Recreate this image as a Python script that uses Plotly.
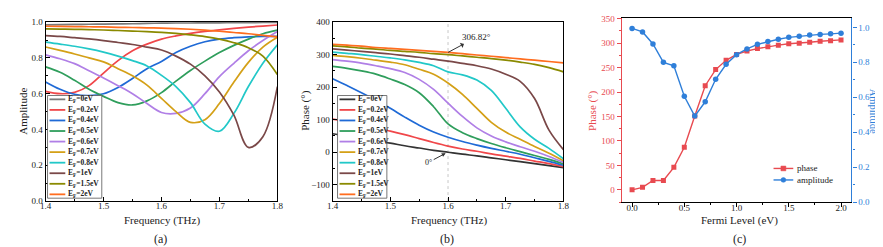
import plotly.graph_objects as go

W, H = 883, 247
FONT = "Liberation Serif, Times New Roman, serif"

# ---------------- data ----------------
freq = [1.4, 1.425, 1.45, 1.475, 1.5, 1.525, 1.55, 1.575, 1.6,
        1.625, 1.65, 1.675, 1.7, 1.725, 1.75, 1.775, 1.8]

labels = ["0eV", "0.2eV", "0.4eV", "0.5eV", "0.6eV", "0.7eV", "0.8eV", "1eV", "1.5eV", "2eV"]
colors = ["#7a7a7a", "#f0474a", "#1f6ad6", "#2f9e5c", "#b07fe6",
          "#d4a017", "#22c8c8", "#7a4848", "#8a8a00", "#ff6d1f"]
colors_b = ["#333333"] + colors[1:]

amp_0eV = [0.985, 0.986, 0.987, 0.988, 0.989, 0.990, 0.991, 0.993, 0.994, 0.995, 0.995, 0.996, 0.996, 0.997, 0.997, 0.998, 0.998]
amp_02eV = [0.613, 0.600, 0.607, 0.645, 0.715, 0.785, 0.840, 0.877, 0.905, 0.923, 0.937, 0.948, 0.957, 0.965, 0.972, 0.978, 0.984]
amp_04eV = [0.666, 0.625, 0.597, 0.590, 0.600, 0.635, 0.685, 0.740, 0.780, 0.830, 0.865, 0.890, 0.905, 0.913, 0.918, 0.920, 0.920]
amp_05eV = [0.750, 0.720, 0.675, 0.625, 0.585, 0.550, 0.537, 0.560, 0.606, 0.670, 0.730, 0.782, 0.830, 0.870, 0.905, 0.935, 0.955]
amp_06eV = [0.817, 0.795, 0.768, 0.728, 0.688, 0.645, 0.600, 0.545, 0.495, 0.490, 0.520, 0.600, 0.695, 0.770, 0.840, 0.897, 0.947]
amp_07eV = [0.861, 0.842, 0.822, 0.800, 0.778, 0.740, 0.700, 0.648, 0.574, 0.500, 0.440, 0.455, 0.545, 0.665, 0.775, 0.860, 0.915]
amp_08eV = [0.888, 0.877, 0.865, 0.850, 0.832, 0.810, 0.785, 0.755, 0.703, 0.640, 0.550, 0.430, 0.390, 0.490, 0.640, 0.770, 0.873]
amp_1eV = [0.925, 0.920, 0.913, 0.906, 0.897, 0.886, 0.875, 0.860, 0.844, 0.810, 0.765, 0.700, 0.610, 0.480, 0.300, 0.360, 0.640]
amp_15eV = [0.962, 0.961, 0.960, 0.958, 0.956, 0.953, 0.950, 0.947, 0.943, 0.937, 0.929, 0.919, 0.905, 0.885, 0.857, 0.810, 0.707]
amp_2eV = [0.977, 0.976, 0.975, 0.974, 0.973, 0.971, 0.970, 0.968, 0.967, 0.964, 0.960, 0.955, 0.949, 0.942, 0.935, 0.926, 0.917]

ph_0eV = [57, 50, 43, 35, 28, 20, 13, 6, 0, -6, -11, -17, -23, -29, -35, -41, -47]
ph_02eV = [102, 94, 85, 75, 65, 54, 42, 30, 19, 10, 3, -5, -12, -19, -27, -35, -44]
ph_04eV = [226, 205, 183, 160, 135, 108, 83, 62, 46, 33, 22, 12, 3, -6, -17, -28, -40]
ph_05eV = [264, 258, 250, 240, 225, 208, 183, 140, 87, 60, 42, 27, 14, 2, -10, -22, -36]
ph_06eV = [285, 280, 274, 266, 257, 245, 224, 193, 151, 110, 75, 50, 32, 17, 3, -13, -31]
ph_07eV = [298, 294, 289, 283, 277, 269, 255, 240, 213, 178, 135, 92, 62, 40, 18, -3, -26]
ph_08eV = [308, 304, 300, 295, 290, 284, 276, 266, 247, 238, 222, 190, 135, 78, 40, 12, -20]
ph_1eV = [318, 314, 310, 306, 302, 297, 292, 286, 280, 273, 266, 256, 240, 218, 165, 68, 8]
ph_15eV = [327, 324, 320, 317, 313, 310, 307, 303, 300, 296, 292, 288, 283, 277, 270, 260, 247]
ph_2eV = [332, 329, 326, 322, 319, 316, 313, 310, 306.82, 303, 299, 295, 291, 287, 283, 279, 275]

amp_series = [amp_0eV, amp_02eV, amp_04eV, amp_05eV, amp_06eV, amp_07eV, amp_08eV, amp_1eV, amp_15eV, amp_2eV]
ph_series = [ph_0eV, ph_02eV, ph_04eV, ph_05eV, ph_06eV, ph_07eV, ph_08eV, ph_1eV, ph_15eV, ph_2eV]

fermi = [0.0, 0.1, 0.2, 0.3, 0.4, 0.5, 0.6, 0.7, 0.8, 0.9, 1.0,
         1.1, 1.2, 1.3, 1.4, 1.5, 1.6, 1.7, 1.8, 1.9, 2.0]
phase_c = [0, 5, 19, 19, 46, 87, 151, 213, 246, 265, 277,
           284, 289, 293, 296, 299, 300, 302, 304, 305, 306.82]
amp_c = [0.994, 0.974, 0.905, 0.800, 0.780, 0.606, 0.492, 0.574, 0.703, 0.789, 0.844,
         0.877, 0.903, 0.919, 0.932, 0.943, 0.950, 0.956, 0.960, 0.963, 0.967]

marker_freq = 1.6
RED_C = "#e84a50"
BLUE_C = "#2f7fd9"

# ---------------- helpers ----------------
def px(x):
    return x / W

def py(y):
    return 1 - y / H

fig = go.Figure()

for vals, col, lab in zip(amp_series, colors, labels):
    fig.add_trace(go.Scatter(x=freq, y=vals, mode="lines", line=dict(color=col, width=1.7, shape="spline"),
                             name="E_F=" + lab, xaxis="x", yaxis="y", showlegend=False))
for vals, col, lab in zip(ph_series, colors_b, labels):
    fig.add_trace(go.Scatter(x=freq, y=vals, mode="lines", line=dict(color=col, width=1.7, shape="spline"),
                             name="E_F=" + lab, xaxis="x2", yaxis="y2", showlegend=False))

fig.add_trace(go.Scatter(x=fermi, y=phase_c, mode="lines+markers", name="phase",
                         line=dict(color=RED_C, width=1.4), marker=dict(symbol="square", size=5, color=RED_C),
                         xaxis="x3", yaxis="y3", showlegend=False))
fig.add_trace(go.Scatter(x=fermi, y=amp_c, mode="lines+markers", name="amplitude",
                         line=dict(color=BLUE_C, width=1.4), marker=dict(symbol="circle", size=5.5, color=BLUE_C),
                         xaxis="x3", yaxis="y4", showlegend=False))

tickfont = dict(family=FONT, size=9, color="#222")

def frame_axis(**kw):
    d = dict(showline=True, linecolor="black", linewidth=1, mirror=True, ticks="inside", ticklen=4,
             tickcolor="black", showgrid=False, zeroline=False, tickfont=tickfont,
             minor=dict(ticks="inside", ticklen=2, tickcolor="black"))
    d.update(kw)
    return d

A_X = [32, 267]
B_X = [323, 557]
AB_Y = [9.5, 196]
C_X = [616, 849]
C_Y = [5, 197]

fig.update_layout(
    width=W, height=H, margin=dict(l=0, r=0, t=0, b=0),
    paper_bgcolor="white", plot_bgcolor="white",
    font=dict(family=FONT, size=10, color="#222"),
    xaxis=frame_axis(domain=[px(A_X[0]), px(A_X[1])], anchor="y", range=[1.4, 1.8], tick0=1.4, dtick=0.1,
                     tickformat=".1f", ticklabelstandoff=-4,
                     minor=dict(ticks="inside", ticklen=2, dtick=0.05, tick0=1.4, tickcolor="black")),
    yaxis=frame_axis(domain=[py(AB_Y[1]), py(AB_Y[0])], anchor="x", range=[0, 1.0], dtick=0.2, tickformat=".1f",
                     minor=dict(ticks="inside", ticklen=2, dtick=0.1, tickcolor="black")),
    xaxis2=frame_axis(domain=[px(B_X[0]), px(B_X[1])], anchor="y2", range=[1.4, 1.8], tick0=1.4, dtick=0.1,
                      tickformat=".1f", ticklabelstandoff=-4,
                      minor=dict(ticks="inside", ticklen=2, dtick=0.05, tick0=1.4, tickcolor="black")),
    yaxis2=frame_axis(domain=[py(AB_Y[1]), py(AB_Y[0])], anchor="x2", range=[-150, 400], dtick=100,
                      minor=dict(ticks="inside", ticklen=2, dtick=50, tickcolor="black")),
    xaxis3=dict(domain=[px(C_X[0]), px(C_X[1])], anchor="y3", range=[-0.1, 2.1], tick0=0, dtick=0.5, tickformat=".1f",
                showline=True, linecolor="black", linewidth=1.2, mirror=True, ticks="outside", ticklen=4,
                tickcolor="black", showgrid=False, zeroline=False, tickfont=tickfont, ticklabelstandoff=-7,
                minor=dict(ticks="outside", ticklen=2, dtick=0.25, tick0=0, tickcolor="black")),
    yaxis3=dict(domain=[py(C_Y[1]), py(C_Y[0])], anchor="x3", range=[-25, 352], tick0=0, dtick=50,
                showline=True, linecolor=RED_C, linewidth=1.2, ticks="outside", ticklen=4, tickcolor=RED_C,
                showgrid=False, zeroline=False, tickfont=dict(family=FONT, size=9, color=RED_C),
                minor=dict(ticks="outside", ticklen=2, dtick=25, tick0=0, tickcolor=RED_C)),
    yaxis4=dict(domain=[py(C_Y[1]), py(C_Y[0])], anchor="x3", overlaying="y3", side="right", range=[0, 1.055],
                tick0=0, dtick=0.2, tickformat=".1f",
                showline=True, linecolor=BLUE_C, linewidth=1.2, ticks="outside", ticklen=4, tickcolor=BLUE_C,
                showgrid=False, zeroline=False, tickfont=dict(family=FONT, size=9, color=BLUE_C),
                minor=dict(ticks="outside", ticklen=2, dtick=0.1, tick0=0, tickcolor=BLUE_C)),
)

shapes = []
annos = []

# dotted guide line at marker frequency in (b)
shapes.append(dict(type="line", xref="x2", yref="y2", x0=marker_freq, x1=marker_freq, y0=-150, y1=400,
                   line=dict(color="#c8c8c8", width=1, dash="dot"), layer="below"))

# manual legends for (a) and (b)
def leg_box(x0, x1, y0, y1, cols):
    shapes.append(dict(type="rect", xref="paper", yref="paper", x0=px(x0), x1=px(x1), y0=py(y1), y1=py(y0),
                       fillcolor="white", line=dict(color="#555", width=0.8), layer="above"))
    step = (y1 - y0 - 8) / (len(labels) - 1)
    for i, (lab, col) in enumerate(zip(labels, cols)):
        yc = y0 + 4 + i * step
        shapes.append(dict(type="line", xref="paper", yref="paper", x0=px(x0 + 2), x1=px(x0 + 18),
                           y0=py(yc), y1=py(yc), line=dict(color=col, width=1.8), layer="above"))
        annos.append(dict(xref="paper", yref="paper", x=px(x0 + 19), y=py(yc), xanchor="left", yanchor="middle",
                          text="<b>E<sub>F</sub>=" + lab + "</b>", showarrow=False,
                          font=dict(family=FONT, size=7.5, color="#222")))

leg_box(34, 89, 86, 193, colors)
leg_box(328, 378, 86, 193, colors_b)

# legend for (c)
for i, (nm, col, sym) in enumerate([("phase", RED_C, "rect"), ("amplitude", BLUE_C, "circle")]):
    yc = 162 + i * 12
    shapes.append(dict(type="line", xref="paper", yref="paper", x0=px(770), x1=px(790), y0=py(yc), y1=py(yc),
                       line=dict(color=col, width=1.4), layer="above"))
    shapes.append(dict(type=sym, xref="paper", yref="paper", x0=px(777.5), x1=px(782.5), y0=py(yc + 2.5),
                       y1=py(yc - 2.5), fillcolor=col, line=dict(color=col, width=0.5), layer="above"))
    annos.append(dict(xref="paper", yref="paper", x=px(792), y=py(yc), xanchor="left", yanchor="middle",
                      text=nm, showarrow=False, font=dict(family=FONT, size=9, color="#222")))

# annotations in (b)
i_mark = freq.index(marker_freq)
annos.append(dict(xref="x2", yref="y2", x=marker_freq, y=ph_2eV[i_mark],
                  text=f"{ph_2eV[i_mark]}°", ax=28, ay=-15, showarrow=True,
                  arrowhead=2, arrowsize=0.8, arrowwidth=1, arrowcolor="#333", arrowside="start",
                  font=dict(family=FONT, size=9, color="#222")))
annos.append(dict(xref="x2", yref="y2", x=marker_freq - 0.004, y=ph_0eV[i_mark] - 3,
                  text=f"{ph_0eV[i_mark]}°", ax=-17, ay=9, showarrow=True,
                  arrowhead=2, arrowsize=0.8, arrowwidth=1, arrowcolor="#333",
                  font=dict(family=FONT, size=8, color="#222")))

# axis titles and panel labels
def txt(x, y, t, size=11, color="#222", angle=0):
    annos.append(dict(xref="paper", yref="paper", x=px(x), y=py(y), text=t, showarrow=False, textangle=angle,
                      xanchor="center", yanchor="middle", font=dict(family=FONT, size=size, color=color)))

txt(150, 216, "Frequency (THz)")
txt(441, 216, "Frequency (THz)")
txt(735, 216, "Fermi Level (eV)")
txt(9, 102, "Amplitude", angle=-90)
txt(296, 102, "Phase (°)", angle=-90)
txt(587, 102, "Phase (°)", color=RED_C, angle=-90)
txt(871, 102, "Amplitude", size=10.5, color=BLUE_C, angle=90)
txt(149, 236, "(a)", size=12)
txt(439, 236, "(b)", size=12)
txt(735, 236, "(c)", size=12)

fig.update_layout(shapes=shapes, annotations=annos)
fig.write_html("out.html")
